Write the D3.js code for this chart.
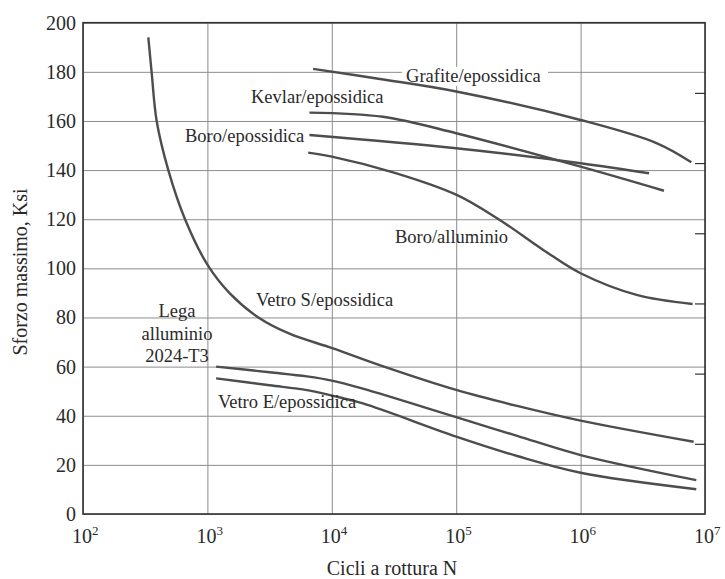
<!DOCTYPE html>
<html>
<head>
<meta charset="utf-8">
<script src="https://cdn.jsdelivr.net/npm/d3@7"></script>
<style>
  body { margin: 0; background: #fff; }
  svg { display: block; font-family: "Liberation Serif", "DejaVu Serif", serif; }
</style>
</head>
<body>
<div id="canvas"></div>
<script>
// --- data: cycles N and max stress (ksi)
var grafiteN   = [7080, 25120, 1e5, 1e6, 4.07e6, 7.76e6];
var grafiteS   = [181.2, 177, 172, 160.4, 151, 143.2];
var kevlarN    = [6607, 25700, 1e5, 1e6, 4.68e6];
var kevlarS    = [163.4, 161.7, 155, 141.4, 131.6];
var boroEpN    = [6607, 1e5, 1e6, 3.55e6];
var boroEpS    = [154.3, 148.9, 142.8, 138.7];
var boroAlN    = [6457, 1e4, 31620, 1e5, 223900, 501200, 1e6, 2.82e6, 7.94e6];
var boroAlS    = [147.1, 145.5, 139, 130, 119.7, 107.5, 98, 89.2, 85.5];
var vetroSN    = [335, 356, 391, 485, 661, 1000, 1514, 2570, 4571, 10230, 24550, 1e5, 309000, 1e6, 8.1e6];
var vetroSS    = [194, 180, 160, 140, 120, 101.5, 89.8, 80, 73.4, 67.4, 60.5, 50.5, 44, 38, 29.4];
var legaN      = [1175, 3162, 6310, 1e4, 17780, 1e5, 309000, 1e6, 8.51e6];
var legaS      = [60, 57.7, 56.0, 54.3, 51.0, 39.4, 31.8, 24.0, 13.8];
var vetroEN    = [1175, 3162, 6310, 1e4, 17780, 1e5, 309000, 1e6, 8.51e6];
var vetroES    = [55.2, 52.4, 50.4, 48.2, 45.0, 31.5, 23.6, 16.8, 10.1];

var xTicks = [1e2, 1e3, 1e4, 1e5, 1e6, 1e7];
var yTicks = [0, 20, 40, 60, 80, 100, 120, 140, 160, 180, 200];
var mpaTicks = [200, 400, 600, 800, 1000, 1200];

// curve labels: [N, stress, text, anchor]
var labels = [
  [39500, 175.9, 'Grafite/epossidica', 'start'],
  [2240, 167.3, 'Kevlar/epossidica', 'start'],
  [661, 151.4, 'Boro/epossidica', 'start'],
  [32200, 110.3, 'Boro/alluminio', 'start'],
  [2455, 84.7, 'Vetro S/epossidica', 'start'],
  [570, 80.2, 'Lega', 'middle'],
  [570, 70.8, 'alluminio', 'middle'],
  [570, 61.9, '2024-T3', 'middle'],
  [1216, 43.1, 'Vetro E/epossidica', 'start']
];

var curves = [
  [grafiteN, grafiteS], [kevlarN, kevlarS], [boroEpN, boroEpS], [boroAlN, boroAlS],
  [vetroSN, vetroSS], [legaN, legaS], [vetroEN, vetroES]
];

// --- margins
var M = {top: 22.7, right: 20, bottom: 65, left: 83};
var outerWidth = 725, outerHeight = 579;
var w = outerWidth - M.left - M.right,
    h = outerHeight - M.top - M.bottom;

var svg = d3.select('#canvas').append('svg')
    .attr('width', outerWidth)
    .attr('height', outerHeight);

var plot = svg.append('g')
    .attr('transform', 'translate(' + M.left + ',' + M.top + ')');

var x = d3.scaleLog().domain([1e2, 1e7]).range([0, w]);
var y = d3.scaleLinear().domain([0, 200]).range([h, 0]);
var yMpa = d3.scaleLinear().domain([0, 1400]).range([h, 0]);

// grid
plot.append('g')
    .attr('transform', 'translate(0,' + h + ')')
    .call(d3.axisBottom(x).tickValues(xTicks).tickSize(-h).tickFormat(''))
    .call(function(g) { g.select('.domain').remove(); })
    .selectAll('line').attr('stroke', '#8c8c8c').attr('stroke-width', 1);

plot.append('g')
    .call(d3.axisLeft(y).tickValues(yTicks).tickSize(-w).tickFormat(''))
    .call(function(g) { g.select('.domain').remove(); })
    .selectAll('line').attr('stroke', '#8c8c8c').attr('stroke-width', 1);

// right side MPa ticks (no labels)
plot.append('g')
    .attr('transform', 'translate(' + w + ',0)')
    .call(d3.axisLeft(yMpa).tickValues(mpaTicks).tickSize(10).tickFormat(''))
    .call(function(g) { g.select('.domain').remove(); })
    .selectAll('line').attr('stroke', '#333').attr('stroke-width', 1.2)
    .attr('x2', -10);

// frame
plot.append('rect')
    .attr('width', w).attr('height', h)
    .attr('fill', 'none').attr('stroke', '#333').attr('stroke-width', 1.6);

// white box behind grafite label (hides grid)
var gl = labels[0];
plot.append('rect')
    .attr('x', x(gl[0]) - 4).attr('y', y(gl[1]) - 15)
    .attr('width', 146).attr('height', 19)
    .attr('fill', '#fff');

// curves
var line = d3.line()
    .x(function(d) { return x(d[0]); })
    .y(function(d) { return y(d[1]); })
    .curve(d3.curveCatmullRom.alpha(0.5));

plot.selectAll('path.curve')
    .data(curves)
    .enter().append('path')
    .attr('class', 'curve')
    .attr('d', function(c) { return line(d3.zip(c[0], c[1])); })
    .attr('fill', 'none')
    .attr('stroke', '#4d4d4d')
    .attr('stroke-width', 2.4);

// curve labels
plot.selectAll('text.lab')
    .data(labels)
    .enter().append('text')
    .attr('class', 'lab')
    .attr('x', function(d) { return x(d[0]); })
    .attr('y', function(d) { return y(d[1]); })
    .attr('text-anchor', function(d) { return d[3]; })
    .style('font-size', '18.5px')
    .style('fill', '#2a2a2a')
    .text(function(d) { return d[2]; });

// y tick labels
plot.selectAll('text.yt')
    .data(yTicks)
    .enter().append('text')
    .attr('class', 'yt')
    .attr('x', -7)
    .attr('y', function(d) { return y(d); })
    .attr('dy', '0.35em')
    .attr('text-anchor', 'end')
    .style('font-size', '20px')
    .style('fill', '#2a2a2a')
    .text(function(d) { return d; });

// x tick labels 10^n
var xt = plot.selectAll('text.xt')
    .data(xTicks)
    .enter().append('text')
    .attr('class', 'xt')
    .attr('x', function(d) { return x(d) - 11; })
    .attr('y', h + 29)
    .style('font-size', '20px')
    .style('fill', '#2a2a2a');
xt.append('tspan').text('10');
xt.append('tspan')
    .attr('dy', -8)
    .style('font-size', '13px')
    .text(function(d) { return Math.round(Math.log10(d)); });

// axis titles
plot.append('text')
    .attr('x', w / 2 - 2)
    .attr('y', h + 61)
    .attr('text-anchor', 'middle')
    .style('font-size', '20px')
    .style('fill', '#2a2a2a')
    .text('Cicli a rottura N');

svg.append('text')
    .attr('transform', 'translate(27,' + 272 + ') rotate(-90)')
    .attr('text-anchor', 'middle')
    .style('font-size', '20px')
    .style('fill', '#2a2a2a')
    .text('Sforzo massimo, Ksi');
</script>
</body>
</html>
